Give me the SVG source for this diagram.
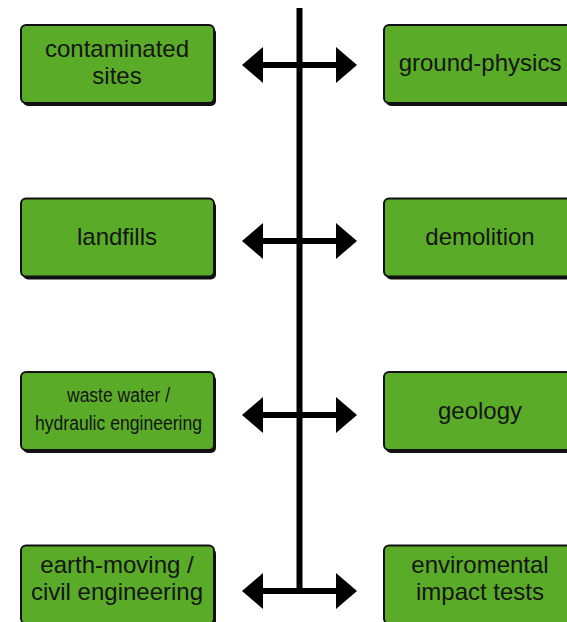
<svg xmlns="http://www.w3.org/2000/svg" width="567" height="622" viewBox="0 0 567 622">
  <style>
    .shadow { fill: #111; }
    .box { fill: #5aab28; stroke: #111; stroke-width: 2; }
    .lbl { font-family: "Liberation Sans", Arial, sans-serif; font-size: 24px; fill: #151515; text-anchor: middle; }
    .sm { font-size: 20px; }
    .conn { stroke: #000; stroke-width: 6; fill: none; }
  </style>
  <defs>
    <marker id="head" markerUnits="userSpaceOnUse" markerWidth="21" markerHeight="36" refX="0" refY="18" orient="auto-start-reverse" viewBox="0 0 21 36">
      <path d="M0,0 L21,18 L0,36 Z" fill="#000"/>
    </marker>
  </defs>
  <rect width="567" height="622" fill="#fff"/>

  <g id="connectors">
    <line class="conn" x1="299.5" y1="8" x2="299.5" y2="594"/>
    <line class="conn" x1="263" y1="65" x2="336" y2="65" marker-start="url(#head)" marker-end="url(#head)"/>
    <line class="conn" x1="263" y1="241" x2="336" y2="241" marker-start="url(#head)" marker-end="url(#head)"/>
    <line class="conn" x1="263" y1="415" x2="336" y2="415" marker-start="url(#head)" marker-end="url(#head)"/>
    <line class="conn" x1="263" y1="591" x2="336" y2="591" marker-start="url(#head)" marker-end="url(#head)"/>
  </g>

  <g id="contaminated-sites">
    <rect class="shadow" x="23" y="28" width="193" height="78" rx="5"/>
    <rect class="box" x="21" y="25" width="193" height="78" rx="5"/>
    <text class="lbl" x="117" y="57">contaminated</text>
    <text class="lbl" x="117" y="84">sites</text>
  </g>
  <g id="ground-physics">
    <rect class="shadow" x="386" y="28" width="200" height="78" rx="5"/>
    <rect class="box" x="384" y="25" width="200" height="78" rx="5"/>
    <text class="lbl" x="480" y="71">ground-physics</text>
  </g>

  <g id="landfills">
    <rect class="shadow" x="23" y="201.5" width="193" height="78" rx="5"/>
    <rect class="box" x="21" y="198.5" width="193" height="78" rx="5"/>
    <text class="lbl" x="117" y="245">landfills</text>
  </g>
  <g id="demolition">
    <rect class="shadow" x="386" y="201.5" width="200" height="78" rx="5"/>
    <rect class="box" x="384" y="198.5" width="200" height="78" rx="5"/>
    <text class="lbl" x="480" y="245">demolition</text>
  </g>

  <g id="waste-water">
    <rect class="shadow" x="23" y="375" width="193" height="78" rx="5"/>
    <rect class="box" x="21" y="372" width="193" height="78" rx="5"/>
    <text class="lbl sm" x="118.5" y="402" textLength="103" lengthAdjust="spacingAndGlyphs">waste water /</text>
    <text class="lbl sm" x="118.5" y="430" textLength="167" lengthAdjust="spacingAndGlyphs">hydraulic engineering</text>
  </g>
  <g id="geology">
    <rect class="shadow" x="386" y="375" width="200" height="78" rx="5"/>
    <rect class="box" x="384" y="372" width="200" height="78" rx="5"/>
    <text class="lbl" x="480" y="419">geology</text>
  </g>

  <g id="earth-moving">
    <rect class="shadow" x="23" y="548.5" width="193" height="78" rx="5"/>
    <rect class="box" x="21" y="545.5" width="193" height="78" rx="5"/>
    <text class="lbl" x="117" y="573">earth-moving /</text>
    <text class="lbl" x="117" y="600">civil engineering</text>
  </g>
  <g id="environmental-impact-tests">
    <rect class="shadow" x="386" y="548.5" width="200" height="78" rx="5"/>
    <rect class="box" x="384" y="545.5" width="200" height="78" rx="5"/>
    <text class="lbl" x="480" y="573">enviromental</text>
    <text class="lbl" x="480" y="600">impact tests</text>
  </g>
</svg>
